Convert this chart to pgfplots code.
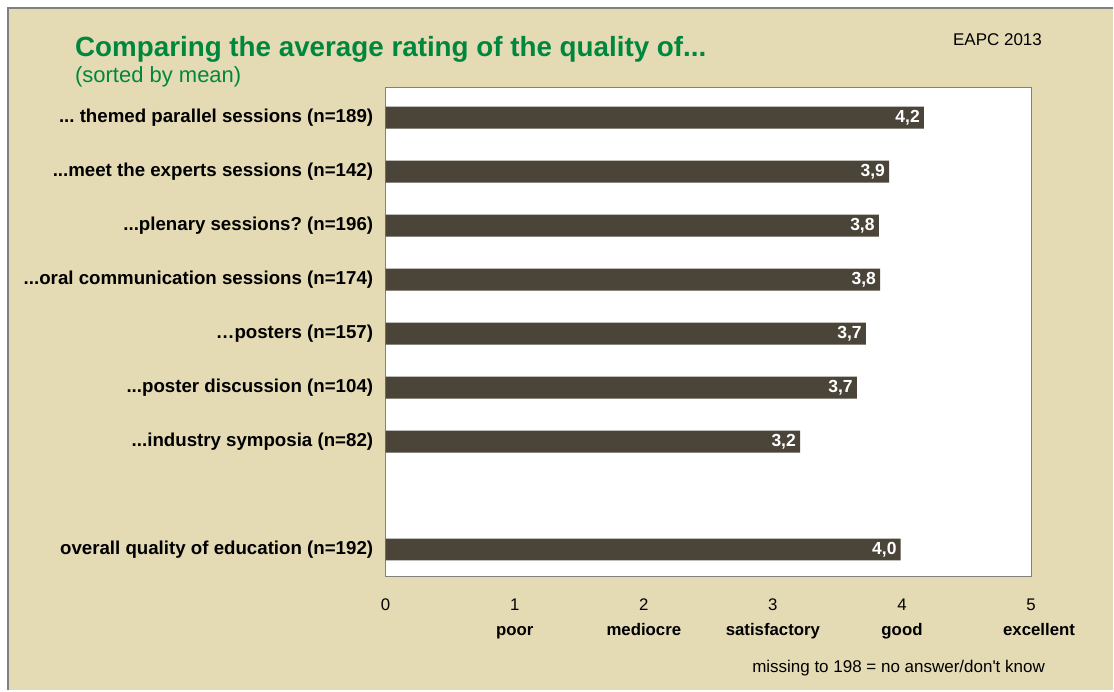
\documentclass[border=0pt]{standalone}
\usepackage{pgfplots}
\pgfplotsset{compat=1.18}
\usepackage{fontspec}
\setmainfont{Liberation Sans}
\definecolor{bg}{HTML}{E4DAB4}
\definecolor{barc}{HTML}{4A4538}
\definecolor{ttl}{HTML}{00873E}
\newcommand{\ddd}{...}
\frenchspacing
\begin{document}
\begin{tikzpicture}[x=1pt,y=1pt]
\fill[white] (0,0) rectangle (1114,691);
\fill[bg] (8,0) rectangle (1114,683);
\draw[gray, line width=2pt] (8,0) -- (8,683) -- (1114,683);
\node[anchor=base west, text=ttl, font=\fontsize{27.8}{32}\selectfont\bfseries, inner sep=0] at (75,634) {Comparing the average rating of the quality of\ddd};
\node[anchor=base west, text=ttl, font=\fontsize{22}{26}\selectfont, inner sep=0] at (75,608) {(sorted by mean)};
\node[anchor=base east, font=\fontsize{17}{20}\selectfont, inner sep=0] at (1043,645) {EAPC 2013};
\node[anchor=base east, font=\fontsize{17}{20}\selectfont, inner sep=0] at (1046,18) {missing to 198 = no answer/don\textquotesingle t know};
\begin{axis}[
  at={(386pt,114pt)}, anchor=south west,
  scale only axis, width=646pt, height=489pt,
  xbar, bar width=22pt,
  xmin=0, xmax=5, ymin=-0.55, ymax=8.5, y dir=reverse,
  axis background/.style={fill=white},
  axis line style={gray, line width=1pt},
  major tick length=0pt,
  /pgf/number format/assume math mode=true,
  ytick={0,1,2,3,4,5,6,8},
  yticklabels={{{\ddd} themed parallel sessions (n=189)},{\ddd meet the experts sessions (n=142)},{\ddd plenary sessions? (n=196)},{\ddd oral communication sessions (n=174)},{…posters (n=157)},{\ddd poster discussion (n=104)},{\ddd industry symposia (n=82)},{overall quality of education (n=192)}},
  yticklabel style={font=\fontsize{18.7}{22}\selectfont\bfseries, xshift=-9pt},
  xtick={0,1,2,3,4,5},
  xticklabels={0,{1\\\textbf{poor}},{2\\\textbf{mediocre}},{3\\\textbf{satisfactory}},{4\\\textbf{good}},{5\\\makebox[0pt]{\hspace*{16pt}\textbf{excellent}}}},
  xticklabel style={align=center, font=\fontsize{16.8}{25}\selectfont, yshift=-19pt},
  nodes near coords,
  point meta=explicit symbolic,
  every node near coord/.append style={anchor=east, text=white, font=\fontsize{17.5}{20}\selectfont\bfseries, inner sep=4pt},
]
\addplot[fill=barc, draw=none] table[x=x, y=y, meta=lab] {
x y lab
4.17 0 4,2
3.90 1 3,9
3.82 2 3,8
3.83 3 3,8
3.72 4 3,7
3.65 5 3,7
3.21 6 3,2
3.99 8 4,0
};
\end{axis}
\end{tikzpicture}
\end{document}
